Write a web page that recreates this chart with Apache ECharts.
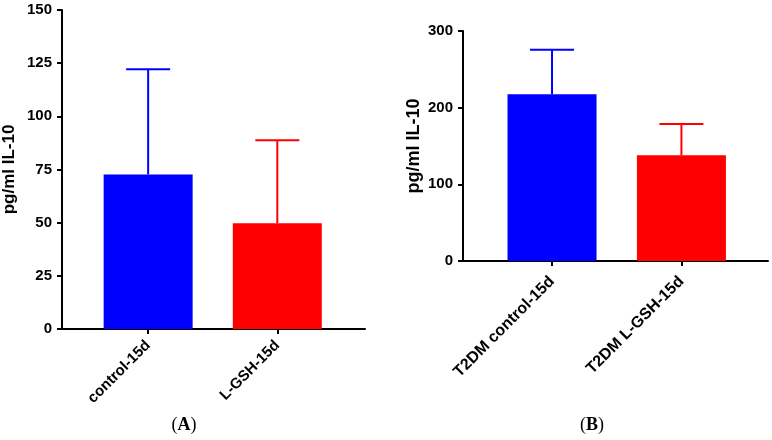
<!DOCTYPE html>
<html>
<head>
<meta charset="utf-8">
<script src="https://cdn.jsdelivr.net/npm/echarts@6/dist/echarts.min.js"></script>
<style>
html,body{margin:0;padding:0;background:#fff;}
#chart{width:772px;height:440px;}
</style>
</head>
<body>
<div id="chart"></div>
<script>
// Panel A
const catsA = ['control-15d', 'L-GSH-15d'];
const meanA = [72.7, 49.7];
const upperA = [122.1, 88.7];
// Panel B
const catsB = ['T2DM control-15d', 'T2DM L-GSH-15d'];
const meanB = [217.4, 137.9];
const upperB = [275.6, 178.7];
const colors = ['#0000ff', '#ff0000'];
const yNameA = 'pg/ml IL-10';
const yNameB = 'pg/ml IL-10';

const FONT = '"Liberation Sans", Arial, Helvetica, sans-serif';
const SERIF = '"Liberation Serif", "Times New Roman", serif';
const chart = echarts.init(document.getElementById('chart'), null, {renderer: 'canvas'});

function xAxisCfg(grid, cats, min, max, fs, margin) {
  return {
    type: 'value', gridIndex: grid, min: min, max: max,
    splitLine: {show: false},
    axisLine: {show: true, onZero: false, lineStyle: {color: '#000', width: 2}},
    axisTick: {show: true, customValues: [0, 1], length: 5, lineStyle: {color: '#000', width: 2}},
    axisLabel: {
      customValues: [0, 1], rotate: 45, margin: margin,
      formatter: v => cats[Math.round(v)] || '',
      color: '#000', fontWeight: 'bold', fontSize: fs, fontFamily: FONT
    }
  };
}
function yAxisCfg(grid, max, interval, name, nfs, gap) {
  return {
    type: 'value', gridIndex: grid, min: 0, max: max, interval: interval,
    name: name, nameLocation: 'middle', nameGap: gap,
    nameTextStyle: {color: '#000', fontWeight: 'bold', fontSize: nfs, fontFamily: FONT},
    splitLine: {show: false},
    axisLine: {show: true, onZero: false, lineStyle: {color: '#000', width: 2}},
    axisTick: {show: true, length: 5, lineStyle: {color: '#000', width: 2}},
    axisLabel: {margin: 10, color: '#000', fontWeight: 'bold', fontSize: 15, fontFamily: FONT}
  };
}
function barData(means) {
  return means.map((v, i) => ({value: [i, v], itemStyle: {color: colors[i]}}));
}
function errData(means, uppers) {
  return means.map((v, i) => [i, v, uppers[i]]);
}
function errSeries(xi, data) {
  return {
    type: 'custom', xAxisIndex: xi, yAxisIndex: xi, z: 1,
    data: data,
    renderItem: function (params, api) {
      const x = api.value(0), lo = api.value(1), hi = api.value(2);
      const p0 = api.coord([x, lo]);
      const p1 = api.coord([x, hi]);
      const c = colors[params.dataIndex];
      const half = 22;
      return {
        type: 'group',
        children: [
          {type: 'line', shape: {x1: p0[0], y1: p0[1], x2: p1[0], y2: p1[1]}, style: {stroke: c, lineWidth: 2}},
          {type: 'line', shape: {x1: p1[0] - half, y1: p1[1], x2: p1[0] + half, y2: p1[1]}, style: {stroke: c, lineWidth: 2}}
        ]
      };
    }
  };
}
function panelLabel(letter, x, y) {
  return {
    type: 'text', x: x, y: y, style: {
      text: '{p|(}{b|' + letter + '}{p|)}', align: 'center', verticalAlign: 'middle',
      rich: {
        p: {fontFamily: SERIF, fontSize: 18, fill: '#000'},
        b: {fontFamily: SERIF, fontSize: 18, fontWeight: 'bold', fill: '#000'}
      }
    }
  };
}

chart.setOption({
  backgroundColor: '#fff',
  animation: false,
  grid: [
    {left: 60, top: 10, width: 305, height: 319},
    {left: 463, top: 31, width: 305, height: 230}
  ],
  xAxis: [
    xAxisCfg(0, catsA, -0.667, 1.679, 15, 14),
    xAxisCfg(1, catsB, -0.688, 1.669, 16, 18)
  ],
  yAxis: [
    yAxisCfg(0, 150, 25, yNameA, 17, 44),
    yAxisCfg(1, 300, 100, yNameB, 18, 40)
  ],
  series: [
    errSeries(0, errData(meanA, upperA)),
    {type: 'bar', xAxisIndex: 0, yAxisIndex: 0, barWidth: 89, z: 2, data: barData(meanA)},
    errSeries(1, errData(meanB, upperB)),
    {type: 'bar', xAxisIndex: 1, yAxisIndex: 1, barWidth: 89, z: 2, data: barData(meanB)}
  ],
  graphic: [
    panelLabel('A', 184, 425),
    panelLabel('B', 592, 425)
  ]
});
</script>
</body>
</html>
